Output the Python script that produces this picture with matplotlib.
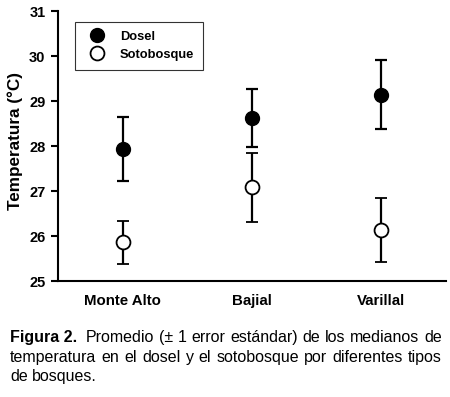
import matplotlib as mpl
mpl.use('Agg')
import matplotlib.pyplot as plt
from matplotlib.lines import Line2D
import numpy as np

plt.rcParams['font.family'] = ['Liberation Sans', 'DejaVu Sans']

sitios = ['Monte Alto', 'Bajial', 'Varillal']
dosel = [27.93, 28.62, 29.14]
dosel_err = [0.71, 0.65, 0.77]
soto = [25.86, 27.08, 26.13]
soto_err = [0.47, 0.77, 0.71]

caption_lines = [
    ['Promedio', '(±', '1', 'error', 'estándar)', 'de', 'los', 'medianos', 'de'],
    ['temperatura', 'en', 'el', 'dosel', 'y', 'el', 'sotobosque', 'por', 'diferentes', 'tipos'],
    ['de', 'bosques.'],
]

fig = plt.figure(figsize=(4.5, 3.97), dpi=100)
ax = fig.add_axes([0.129, 0.292, 0.862, 0.68])
x = np.arange(1, len(sitios) + 1)

ax.errorbar(x, dosel, yerr=dosel_err, fmt='o', color='black', mfc='black', mec='black',
            ms=10, elinewidth=1.6, capsize=4.5, capthick=1.6)
ax.errorbar(x, soto, yerr=soto_err, fmt='o', color='black', mfc='white', mec='black',
            ms=10, mew=1.3, elinewidth=1.6, capsize=4.5, capthick=1.6)

ax.set_xlim(0.5, 3.5)
ax.set_ylim(25, 31)
ax.set_xticks(x)
ax.set_xticklabels(sitios, fontweight='bold', fontsize=10.8)
ax.tick_params(axis='x', length=0, pad=9)
ax.tick_params(axis='y', direction='out', length=5, width=1.5, labelsize=10.5, pad=4)
for lab in ax.get_yticklabels():
    lab.set_fontweight('bold')
ax.spines['top'].set_visible(False)
ax.spines['right'].set_visible(False)
ax.spines['left'].set_linewidth(1.5)
ax.spines['bottom'].set_linewidth(1.5)
ax.set_ylabel('Temperatura (°C)', fontweight='bold', fontsize=12.3, labelpad=7)
ax.yaxis.set_label_coords(-0.09, 0.52)

handles = [
    Line2D([], [], ls='none', marker='o', ms=10, mfc='black', mec='black'),
    Line2D([], [], ls='none', marker='o', ms=10, mfc='white', mec='black', mew=1.3),
]
leg = ax.legend(handles, ['Dosel', 'Sotobosque'], loc='upper left',
                bbox_to_anchor=(0.043, 0.96), frameon=True, fancybox=False,
                prop={'weight': 'bold', 'size': 9.3}, handletextpad=0.78, borderpad=0.7,
                labelspacing=0.45, handlelength=2.0, borderaxespad=0)
leg.get_frame().set_edgecolor('black')
leg.get_frame().set_linewidth(0.8)

# caption, justified
fig.canvas.draw()
renderer = fig.canvas.get_renderer()
left_px, right_px = 10, 442
fs = 11.5
line_y = [342, 362, 381]
W, H = fig.get_size_inches() * fig.dpi
for i, words in enumerate(caption_lines):
    y = 1 - line_y[i] / H
    items = []
    if i == 0:
        items.append(('Figura 2.', 'bold'))
    items += [(w, 'normal') for w in words]
    texts = [fig.text(0, y, w, fontsize=fs, fontweight=wt, va='baseline') for w, wt in items]
    widths = [t.get_window_extent(renderer).width for t in texts]
    total = sum(widths)
    extra = 4 if i == 0 else 0
    if i < len(caption_lines) - 1:
        gap = (right_px - left_px - total - extra) / (len(texts) - 1)
    else:
        gap = fs * 0.28 * 100 / 72
    pos = left_px
    for j, (t, w) in enumerate(zip(texts, widths)):
        t.set_x(pos / W)
        pos += w + gap
        if i == 0 and j == 0:
            pos += extra

fig.savefig('out.png', dpi=100)
